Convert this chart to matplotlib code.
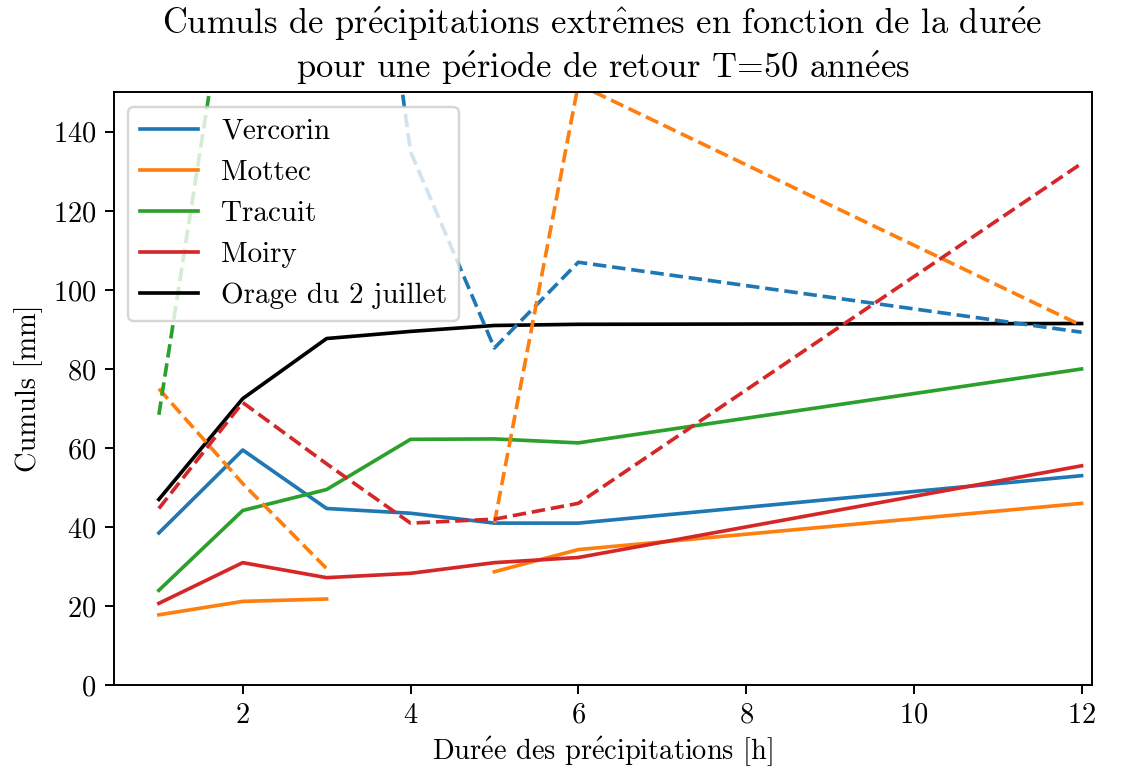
import numpy as np
import matplotlib
matplotlib.use("Agg")
import matplotlib.pyplot as plt

plt.rcParams['font.family'] = ['cmr10', 'DejaVu Serif']
plt.rcParams['mathtext.fontset'] = 'cm'
plt.rcParams['axes.formatter.use_mathtext'] = True
plt.rcParams['axes.unicode_minus'] = False
plt.rcParams['font.size'] = 11.7

durations = [1, 2, 3, 4, 5, 6, 12]
nan = np.nan

vercorin = [38.5, 59.5, 44.7, 43.5, 41.0, 41.0, 53.0]
mottec = [17.8, 21.2, 21.8, nan, 28.7, 34.3, 46.0]
tracuit = [24.0, 44.2, 49.5, 62.2, 62.3, 61.3, 80.0]
moiry = [20.7, 31.0, 27.2, 28.3, 31.0, 32.3, 55.5]
orage = [47.0, 72.5, 87.7, 89.5, 91.0, 91.3, 91.5]

vercorin_d = [290.0, 290.0, 290.0, 135.0, 85.3, 107.0, 89.3]
mottec_d = [75.0, 51.0, 29.5, nan, 41.0, 152.0, 91.0]
tracuit_d = [68.4, 204.0, 260.0, 280.0, 290.0, 300.0, 320.0]
moiry_d = [44.7, 71.5, 56.0, 41.0, 42.0, 46.0, 132.0]

labels = ["Vercorin", "Mottec", "Tracuit", "Moiry", "Orage du 2 juillet"]
colors = ["#1f77b4", "#ff7f0e", "#2ca02c", "#d62728", "black"]


def tex(s):
    return s.replace("é", r"$\mathrm{\acute{e}}$").replace("ê", r"$\mathrm{\hat{e}}$")


title = "Cumuls de précipitations extrêmes en fonction de la durée\npour une période de retour T=50 années"
xlabel = "Durée des précipitations [h]"
ylabel = "Cumuls [mm]"

fig = plt.figure(figsize=(11.21 / 1.75, 7.69 / 1.75), dpi=175)
ax = fig.add_axes([0.1013, 0.109, 0.8725, 0.771])

solids = [vercorin, mottec, tracuit, moiry, orage]
dashed = [vercorin_d, mottec_d, tracuit_d, moiry_d]

for vals, lab, c in zip(solids, labels, colors):
    ax.plot(durations, vals, color=c, label=lab, lw=1.5)
for vals, c in zip(dashed, colors[:4]):
    ax.plot(durations, vals, color=c, ls='--', lw=1.5)

ax.set_xlim(0.46, 12.12)
ax.set_ylim(0, 150)
ax.set_xticks([2, 4, 6, 8, 10, 12])
ax.set_yticks([0, 20, 40, 60, 80, 100, 120, 140])
ax.set_xlabel(tex(xlabel), labelpad=2.5)
ax.set_ylabel(ylabel)
ax.set_title(tex(title), fontsize=14.2)
ax.legend(loc='upper left', fontsize=12)

fig.savefig("out.png", dpi=175)
